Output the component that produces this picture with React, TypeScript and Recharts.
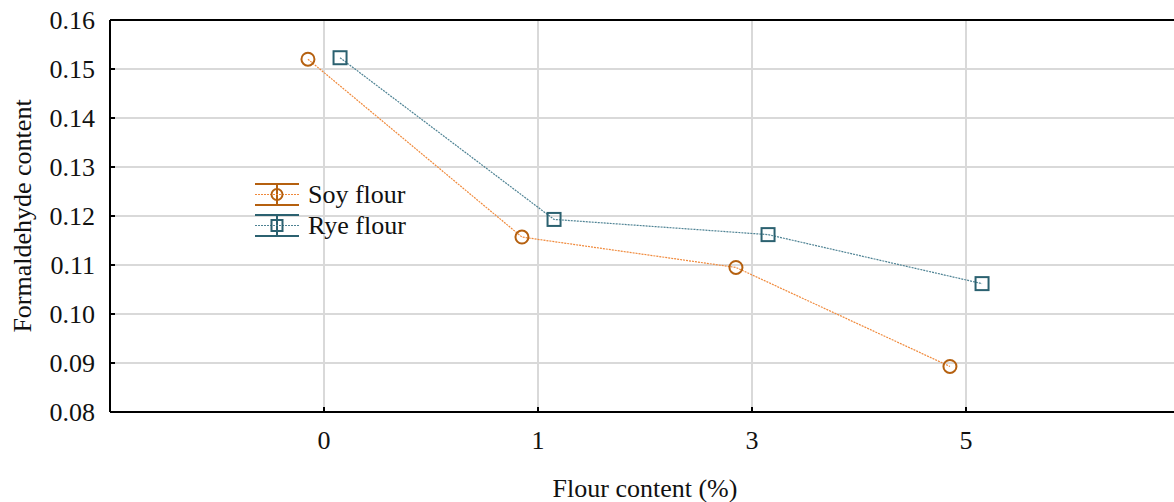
import React from "react"
import { ScatterChart, Scatter, XAxis, YAxis, CartesianGrid, ReferenceLine } from "recharts"

// categories on the x axis (flour content, %)
const categories = ["0", "1", "3", "5"]
const soyValues = [0.152, 0.1157, 0.1095, 0.0893]
const ryeValues = [0.1523, 0.1193, 0.1162, 0.1062]
const yTicks = [0.08, 0.09, 0.1, 0.11, 0.12, 0.13, 0.14, 0.15, 0.16]

const FONT = '"Liberation Serif", "Times New Roman", serif'
const FS = 26
const SOY_MARK = "#b5600f"
const SOY_LINE = "#f08a3c"
const RYE_MARK = "#2b6170"
const RYE_LINE = "#4f8394"
const DODGE = 0.075

const soyData = soyValues.map((v, i) => ({ x: i - DODGE, y: v }))
const ryeData = ryeValues.map((v, i) => ({ x: i + DODGE, y: v }))

const CircleMark = (props: any) => {
  const { cx, cy } = props
  return <circle cx={cx} cy={cy} r={6.5} fill="none" stroke={SOY_MARK} strokeWidth={2} />
}

const SquareMark = (props: any) => {
  const { cx, cy } = props
  return <rect x={cx - 6.5} y={cy - 6.5} width={13} height={13} fill="none" stroke={RYE_MARK} strokeWidth={2} />
}

const LegendIcon = ({ color, line, kind }: { color: string; line: string; kind: "circle" | "square" }) => (
  <svg width={46} height={26} style={{ display: "block" }}>
    <line x1={1} y1={2} x2={45} y2={2} stroke={color} strokeWidth={2} />
    <line x1={1} y1={23} x2={45} y2={23} stroke={color} strokeWidth={2} />
    <line x1={23} y1={2} x2={23} y2={23} stroke={color} strokeWidth={2} />
    <line x1={1} y1={12.5} x2={45} y2={12.5} stroke={line} strokeWidth={1} strokeDasharray="2 1" />
    {kind === "circle" ? (
      <circle cx={23} cy={12.5} r={5.5} fill="none" stroke={color} strokeWidth={2} />
    ) : (
      <rect x={17.5} y={7} width={11} height={11} fill="none" stroke={color} strokeWidth={2} />
    )}
  </svg>
)

const LegendBox = () => (
  <div style={{ position: "absolute", left: 254, top: 179, fontFamily: FONT, fontSize: FS, color: "#111", lineHeight: 1 }}>
    <div style={{ display: "flex", alignItems: "center", height: 31 }}>
      <LegendIcon color={SOY_MARK} line={SOY_LINE} kind="circle" />
      <span style={{ marginLeft: 8 }}>Soy flour</span>
    </div>
    <div style={{ display: "flex", alignItems: "center", height: 31 }}>
      <LegendIcon color={RYE_MARK} line={RYE_LINE} kind="square" />
      <span style={{ marginLeft: 8 }}>Rye flour</span>
    </div>
  </div>
)

export default function App() {
  return (
    <div style={{ width: 1174, height: 502, overflow: "hidden", position: "relative" }}>
      <style>{"body{margin:0;background:#fff}"}</style>
      <ScatterChart width={1180} height={502} margin={{ top: 20, right: 0, bottom: 0, left: 0 }}>
        <CartesianGrid stroke="#d9d9d9" strokeWidth={2} />
        <XAxis
          type="number"
          dataKey="x"
          domain={[-1, 4]}
          ticks={[0, 1, 2, 3]}
          tickFormatter={(i: number) => categories[i]}
          height={90}
          axisLine={{ stroke: "#000", strokeWidth: 2 }}
          tickLine={{ stroke: "#000", strokeWidth: 2 }}
          tickSize={-5}
          tickMargin={24}
          tick={{ fill: "#111", fontSize: FS, fontFamily: FONT }}
          label={(p: any) => {
            const vb = p.viewBox
            return (
              <text x={vb.x + vb.width / 2} y={vb.y + 76} textAnchor="middle" dominantBaseline="central"
                fontSize={FS} fontFamily={FONT} fill="#111">
                Flour content (%)
              </text>
            )
          }}
        />
        <YAxis
          type="number"
          dataKey="y"
          domain={[0.08, 0.16]}
          ticks={yTicks}
          tickFormatter={(v: number) => v.toFixed(2)}
          width={110}
          axisLine={{ stroke: "#000", strokeWidth: 2 }}
          tickLine={{ stroke: "#000", strokeWidth: 2 }}
          tickSize={-5}
          tickMargin={20}
          tick={{ fill: "#111", fontSize: FS, fontFamily: FONT }}
          label={(p: any) => {
            const vb = p.viewBox
            const cx = vb.x + 22
            const cy = vb.y + vb.height / 2
            return (
              <text x={cx} y={cy} textAnchor="middle" dominantBaseline="central"
                transform={`rotate(-90 ${cx} ${cy})`} fontSize={FS} fontFamily={FONT} fill="#111">
                Formaldehyde content
              </text>
            )
          }}
        />
        <ReferenceLine y={0.16} stroke="#000" strokeWidth={2} />
        <Scatter
          name="Soy flour"
          data={soyData}
          line={{ stroke: SOY_LINE, strokeWidth: 1.2, strokeDasharray: "2 1" }}
          shape={CircleMark}
          isAnimationActive={false}
        />
        <Scatter
          name="Rye flour"
          data={ryeData}
          line={{ stroke: RYE_LINE, strokeWidth: 1.2, strokeDasharray: "2 1" }}
          shape={SquareMark}
          isAnimationActive={false}
        />
      </ScatterChart>
      <LegendBox />
    </div>
  )
}
